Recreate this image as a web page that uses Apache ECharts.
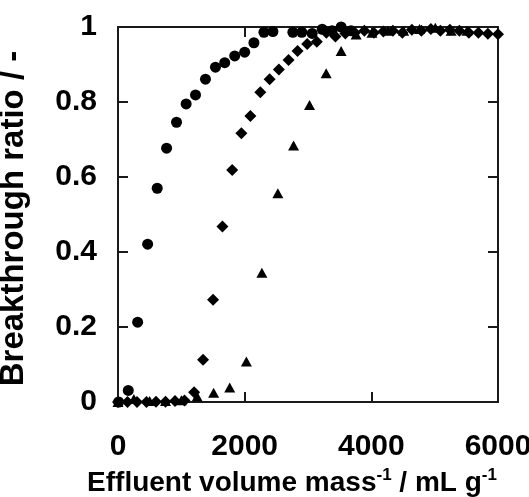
<!DOCTYPE html>
<html>
<head>
<meta charset="utf-8">
<script src="https://cdn.jsdelivr.net/npm/echarts@6/dist/echarts.min.js"></script>
<style>
html,body{margin:0;padding:0;background:#fff;}
#c{width:529px;height:497px;}
</style>
</head>
<body>
<div id="c"></div>
<script>
// Series A (circles)
const circleX = [10,162,310,468,619,767,924,1076,1224,1381,1539,1685,1843,2000,2146,2304,2446,2761,2902,3066,3224,3380,3523,3680];
const circleY = [0,0.031,0.213,0.421,0.570,0.677,0.746,0.795,0.819,0.861,0.893,0.905,0.923,0.933,0.958,0.986,0.988,0.986,0.986,0.983,0.994,0.99,1.0,0.99];
// Series B (diamonds)
const diamondX = [0,150,300,450,600,750,900,1050,1202,1343,1501,1649,1803,1948,2090,2247,2394,2540,2693,2835,2987,3139,3290,3433,3590,3740,3890,4040,4190,4340,4490,4640,4790,4940,5090,5240,5390,5540,5690,5840,6000];
const diamondY = [0,0,0,0,0.001,0.001,0.003,0.004,0.026,0.113,0.273,0.468,0.619,0.717,0.763,0.826,0.861,0.887,0.912,0.936,0.955,0.961,0.985,0.975,0.983,0.985,0.99,0.985,0.988,0.99,0.985,0.993,0.99,0.995,0.99,0.993,0.99,0.985,0.985,0.982,0.981];
// Series C (triangles)
const triangleX = [0,250,500,750,1000,1250,1510,1764,2027,2272,2524,2772,3024,3287,3523,3760,4010,4260,4510,4760,5010,5260,5510];
const triangleY = [0,0.008,0.003,0.003,0.005,0.015,0.025,0.039,0.108,0.345,0.557,0.684,0.792,0.877,0.936,0.98,0.985,0.99,0.99,0.995,0.998,0.99,0.99];
// Axis ticks
const xTicks = [0, 2000, 4000, 6000];
const yTicks = [0, 0.2, 0.4, 0.6, 0.8, 1];

const pair = (xs, ys) => xs.map((x, i) => [x, ys[i]]);
const FONT = "'Liberation Sans', Arial, sans-serif";
const lineStyle = {color: '#1a1a1a', width: 2};

const chart = echarts.init(document.getElementById('c'));
const baseX = {
  type: 'value', min: xTicks[0], max: xTicks[xTicks.length - 1], interval: xTicks[1] - xTicks[0],
  splitLine: {show: false},
  axisLine: {show: true, onZero: false, lineStyle},
  axisTick: {show: true, inside: true, length: 10, lineStyle}
};
const baseY = {
  type: 'value', min: yTicks[0], max: yTicks[yTicks.length - 1], interval: yTicks[1] - yTicks[0],
  splitLine: {show: false},
  axisLine: {show: true, onZero: false, lineStyle},
  axisTick: {show: true, inside: true, length: 10, lineStyle}
};
chart.setOption({
  animation: false,
  backgroundColor: '#fff',
  grid: {left: 118, right: 31, top: 27, bottom: 95, containLabel: false, outerBoundsMode: 'none'},
  xAxis: [
    Object.assign({}, baseX, {
      position: 'bottom',
      axisLabel: {show: true, color: '#000', fontFamily: FONT, fontWeight: 'bold', fontSize: 30, margin: 30,
        formatter: v => String(v)},
      name: '{a|Effluent volume mass}{s|-1}{a| / mL g}{s|-1}',
      nameLocation: 'middle', nameGap: 62,
      nameTextStyle: {
        padding: [0, 32, 0, 0],
        rich: {
          a: {fontFamily: FONT, fontWeight: 'bold', fontSize: 28, color: '#000'},
          s: {fontFamily: FONT, fontWeight: 'bold', fontSize: 17, color: '#000', padding: [0, 0, 16, 0]}
        }
      }
    }),
    Object.assign({}, baseX, {position: 'top', axisLabel: {show: false}})
  ],
  yAxis: [
    Object.assign({}, baseY, {
      position: 'left',
      axisLabel: {show: true, color: '#000', fontFamily: FONT, fontWeight: 'bold', fontSize: 30, margin: 21,
        formatter: v => String(v)},
      name: 'Breakthrough ratio / -',
      nameLocation: 'middle', nameGap: 88, nameRotate: 90,
      nameTextStyle: {fontFamily: FONT, fontWeight: 'bold', fontSize: 33, color: '#000', padding: [0, 8, 0, 0]}
    }),
    Object.assign({}, baseY, {position: 'right', axisLabel: {show: false}})
  ],
  series: [
    {type: 'scatter', name: 'A', data: pair(circleX, circleY), symbol: 'circle', symbolSize: 11,
      itemStyle: {color: '#000', opacity: 1}},
    {type: 'scatter', name: 'B', data: pair(diamondX, diamondY), symbol: 'diamond', symbolSize: 12,
      itemStyle: {color: '#000', opacity: 1}},
    {type: 'scatter', name: 'C', data: pair(triangleX, triangleY), symbol: 'triangle', symbolSize: [11, 10],
      itemStyle: {color: '#000', opacity: 1}}
  ]
});
</script>
</body>
</html>
